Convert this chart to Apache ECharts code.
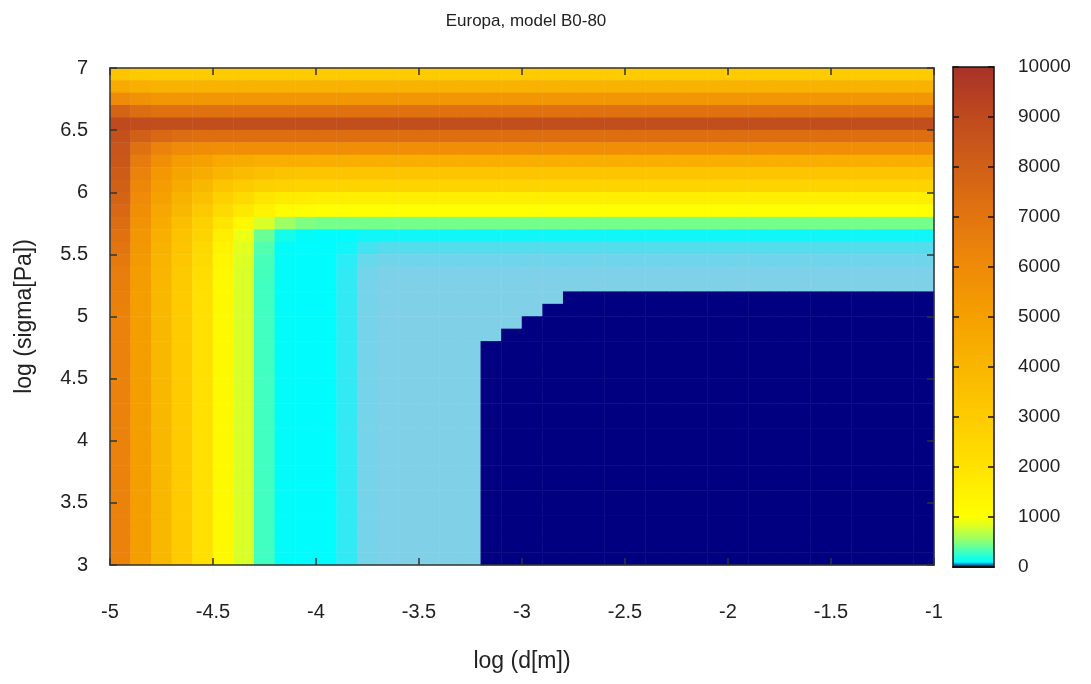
<!DOCTYPE html>
<html>
<head>
<meta charset="utf-8">
<script src="https://cdn.jsdelivr.net/npm/echarts@6.0.0/dist/echarts.min.js"></script>
<style>
html,body{margin:0;padding:0;background:#fff;}
#chart{width:1091px;height:684px;}
</style>
</head>
<body>
<div id="chart"></div>
<script>
// Cell centres of the heatmap grid (log d [m], log sigma [Pa])
const xCenters = [-4.95,-4.85,-4.75,-4.65,-4.55,-4.45,-4.35,-4.25,-4.15,-4.05,
                  -3.95,-3.85,-3.75,-3.65,-3.55,-3.45,-3.35,-3.25,-3.15,-3.05,
                  -2.95,-2.85,-2.75,-2.65,-2.55,-2.45,-2.35,-2.25,-2.15,-2.05,
                  -1.95,-1.85,-1.75,-1.65,-1.55,-1.45,-1.35,-1.25,-1.15,-1.05];
const yCenters = [3.05,3.15,3.25,3.35,3.45,3.55,3.65,3.75,3.85,3.95,
                  4.05,4.15,4.25,4.35,4.45,4.55,4.65,4.75,4.85,4.95,
                  5.05,5.15,5.25,5.35,5.45,5.55,5.65,5.75,5.85,5.95,
                  6.05,6.15,6.25,6.35,6.45,6.55,6.65,6.75,6.85,6.95];
const xTicks = {min: -5, max: -1, step: 0.5};
const yTicks = {min: 3, max: 7, step: 0.5};
const cbTicks = {min: 0, max: 10000, step: 1000};
const titleText = 'Europa, model B0-80';
const xName = 'log (d[m])';
const yName = 'log (sigma[Pa])';

// Values; first row = top (y 6.95), last row = bottom (y 3.05)
const zRows = [
[3300,3100,3000,3000,3000,3000,3000,3000,3000,3000, 3000,3000,3000,3000,3000,3000,3000,3000,3000,3000, 3000,3000,3000,3000,3000,3000,3000,3000,3000,3000, 3000,3000,3000,3000,3000,3000,3000,3000,3000,3000],
[4500,4300,4200,4200,4200,4200,4200,4200,4200,4200, 4200,4200,4200,4200,4200,4200,4200,4200,4200,4200, 4200,4200,4200,4200,4200,4200,4200,4200,4200,4200, 4200,4200,4200,4200,4200,4200,4200,4200,4200,4200],
[6000,5700,5500,5500,5500,5500,5500,5500,5500,5500, 5500,5500,5500,5500,5500,5500,5500,5500,5500,5500, 5500,5500,5500,5500,5500,5500,5500,5500,5500,5500, 5500,5500,5500,5500,5500,5500,5500,5500,5500,5500],
[7800,7400,7200,7200,7200,7200,7200,7200,7200,7200, 7200,7200,7200,7200,7200,7200,7200,7200,7200,7200, 7200,7200,7200,7200,7200,7200,7200,7200,7200,7200, 7200,7200,7200,7200,7200,7200,7200,7200,7200,7200],
[9000,8900,8800,8800,8800,8800,8800,8800,8800,8800, 8800,8800,8800,8800,8800,8800,8800,8800,8800,8800, 8800,8800,8800,8800,8800,8800,8800,8800,8800,8800, 8800,8800,8800,8800,8800,8800,8800,8800,8800,8800],
[8700,8000,7600,7400,7300,7300,7300,7300,7300,7300, 7300,7300,7300,7300,7300,7300,7300,7300,7300,7300, 7300,7300,7300,7300,7300,7300,7300,7300,7300,7300, 7300,7300,7300,7300,7300,7300,7300,7300,7300,7300],
[8500,7200,6400,6000,5900,5800,5800,5800,5800,5800, 5800,5800,5800,5800,5800,5800,5800,5800,5800,5800, 5800,5800,5800,5800,5800,5800,5800,5800,5800,5800, 5800,5800,5800,5800,5800,5800,5800,5800,5800,5800],
[8400,6700,5800,5200,4900,4600,4400,4300,4300,4300, 4300,4300,4300,4300,4300,4300,4300,4300,4300,4300, 4300,4300,4300,4300,4300,4300,4300,4300,4300,4300, 4300,4300,4300,4300,4300,4300,4300,4300,4300,4300],
[8200,6400,5400,4800,4400,4000,3700,3500,3400,3300, 3300,3300,3300,3300,3300,3300,3300,3300,3300,3300, 3300,3300,3300,3300,3300,3300,3300,3300,3300,3300, 3300,3300,3300,3300,3300,3300,3300,3300,3300,3300],
[8000,6200,5200,4500,3900,3300,3000,2800,2700,2600, 2600,2600,2600,2600,2600,2600,2600,2600,2600,2600, 2600,2600,2600,2600,2600,2600,2600,2600,2600,2600, 2600,2600,2600,2600,2600,2600,2600,2600,2600,2600],
[7800,6000,4900,4200,3500,2800,2300,1900,1700,1650, 1600,1600,1600,1600,1600,1600,1600,1600,1600,1600, 1600,1600,1600,1600,1600,1600,1600,1600,1600,1600, 1600,1600,1600,1600,1600,1600,1600,1600,1600,1600],
[7600,5800,4700,3900,3100,2300,1800,1400,1150,1050, 1000,1000,1000,1000,1000,1000,1000,1000,1000,1000, 1000,1000,1000,1000,1000,1000,1000,1000,1000,1000, 1000,1000,1000,1000,1000,1000,1000,1000,1000,1000],
[7400,5600,4500,3600,2800,1900,1200,800,560,480, 450,450,450,450,450,450,450,450,450,450, 450,450,450,450,450,450,450,450,450,450, 450,450,450,450,450,450,450,450,450,450],
[7200,5500,4300,3400,2600,1600,900,420,160,110, 100,100,90,90,90,90,90,90,90,90, 90,90,90,90,90,90,90,90,90,90, 90,90,90,90,90,90,90,90,90,90],
[7000,5400,4200,3300,2400,1400,850,350,110,100, 100,90,60,50,50,50,50,50,50,50, 50,50,50,50,50,50,50,50,50,50, 50,50,50,50,50,50,50,50,50,50],
[6800,5300,4100,3200,2300,1300,820,320,110,100, 100,75,35,25,25,25,25,25,25,25, 25,25,25,25,25,25,25,25,25,25, 25,25,25,25,25,25,25,25,25,25],
[6650,5200,4000,3100,2200,1250,800,310,110,100, 100,72,22,13,12,12,12,12,12,12, 12,12,12,12,12,12,12,12,12,12, 12,12,12,12,12,12,12,12,12,12],
[6550,5150,3950,3050,2150,1220,800,300,110,100, 100,70,20,12,10,10,10,10,10,10, 10,10,10,10,10,10,10,10,10,10, 10,10,10,10,10,10,10,10,10,10],
[6500,5100,3900,3000,2100,1200,800,300,110,100, 100,70,20,12,10,10,10,10,10,10, 10,10,0,0,0,0,0,0,0,0, 0,0,0,0,0,0,0,0,0,0],
[6450,5100,3900,3000,2100,1200,800,300,110,100, 100,70,20,12,10,10,10,10,10,10, 10,0,0,0,0,0,0,0,0,0, 0,0,0,0,0,0,0,0,0,0],
[6400,5100,3900,3000,2100,1200,800,300,110,100, 100,70,20,12,10,10,10,10,10,10, 0,0,0,0,0,0,0,0,0,0, 0,0,0,0,0,0,0,0,0,0],
[6400,5100,3900,3000,2100,1200,800,300,110,100, 100,70,20,12,10,10,10,10,10,0, 0,0,0,0,0,0,0,0,0,0, 0,0,0,0,0,0,0,0,0,0],
[6400,5100,3900,3000,2100,1200,800,300,110,100, 100,70,20,12,10,10,10,10,0,0, 0,0,0,0,0,0,0,0,0,0, 0,0,0,0,0,0,0,0,0,0],
[6400,5100,3900,3000,2100,1200,800,300,110,100, 100,70,20,12,10,10,10,10,0,0, 0,0,0,0,0,0,0,0,0,0, 0,0,0,0,0,0,0,0,0,0],
[6400,5100,3900,3000,2100,1200,800,300,110,100, 100,70,20,12,10,10,10,10,0,0, 0,0,0,0,0,0,0,0,0,0, 0,0,0,0,0,0,0,0,0,0],
[6400,5100,3900,3000,2100,1200,800,300,110,100, 100,70,20,12,10,10,10,10,0,0, 0,0,0,0,0,0,0,0,0,0, 0,0,0,0,0,0,0,0,0,0],
[6400,5100,3900,3000,2100,1200,800,300,110,100, 100,70,20,12,10,10,10,10,0,0, 0,0,0,0,0,0,0,0,0,0, 0,0,0,0,0,0,0,0,0,0],
[6400,5100,3900,3000,2100,1200,800,300,110,100, 100,70,20,12,10,10,10,10,0,0, 0,0,0,0,0,0,0,0,0,0, 0,0,0,0,0,0,0,0,0,0],
[6400,5100,3900,3000,2100,1200,800,300,110,100, 100,70,20,12,10,10,10,10,0,0, 0,0,0,0,0,0,0,0,0,0, 0,0,0,0,0,0,0,0,0,0],
[6400,5100,3900,3000,2100,1200,800,300,110,100, 100,70,20,12,10,10,10,10,0,0, 0,0,0,0,0,0,0,0,0,0, 0,0,0,0,0,0,0,0,0,0],
[6400,5100,3900,3000,2100,1200,800,300,110,100, 100,70,20,12,10,10,10,10,0,0, 0,0,0,0,0,0,0,0,0,0, 0,0,0,0,0,0,0,0,0,0],
[6400,5100,3900,3000,2100,1200,800,300,110,100, 100,70,20,12,10,10,10,10,0,0, 0,0,0,0,0,0,0,0,0,0, 0,0,0,0,0,0,0,0,0,0],
[6400,5100,3900,3000,2100,1200,800,300,110,100, 100,70,20,12,10,10,10,10,0,0, 0,0,0,0,0,0,0,0,0,0, 0,0,0,0,0,0,0,0,0,0],
[6400,5100,3900,3000,2100,1200,800,300,110,100, 100,70,20,12,10,10,10,10,0,0, 0,0,0,0,0,0,0,0,0,0, 0,0,0,0,0,0,0,0,0,0],
[6400,5100,3900,3000,2100,1200,800,300,110,100, 100,70,20,12,10,10,10,10,0,0, 0,0,0,0,0,0,0,0,0,0, 0,0,0,0,0,0,0,0,0,0],
[6400,5100,3900,3000,2100,1200,800,300,110,100, 100,70,20,12,10,10,10,10,0,0, 0,0,0,0,0,0,0,0,0,0, 0,0,0,0,0,0,0,0,0,0],
[6400,5100,3900,3000,2100,1200,800,300,110,100, 100,70,20,12,10,10,10,10,0,0, 0,0,0,0,0,0,0,0,0,0, 0,0,0,0,0,0,0,0,0,0],
[6400,5100,3900,3000,2100,1200,800,300,110,100, 100,70,20,12,10,10,10,10,0,0, 0,0,0,0,0,0,0,0,0,0, 0,0,0,0,0,0,0,0,0,0],
[6400,5100,3900,3000,2100,1200,800,300,110,100, 100,70,20,12,10,10,10,10,0,0, 0,0,0,0,0,0,0,0,0,0, 0,0,0,0,0,0,0,0,0,0],
[6400,5100,3900,3000,2100,1200,800,300,110,100, 100,70,20,12,10,10,10,10,0,0, 0,0,0,0,0,0,0,0,0,0, 0,0,0,0,0,0,0,0,0,0]
];

// Colour palette (value -> colour), styling only
const paletteStops = [
  [0,'#000080'],[10,'#80d0e8'],[50,'#55ddee'],[100,'#00fcfc'],[300,'#40ffc0'],
  [550,'#98ff68'],[800,'#d8ff28'],[1000,'#ffff00'],[2000,'#ffe200'],[3000,'#fdcb00'],
  [4000,'#f9b600'],[5000,'#f5a000'],[6000,'#ef8b08'],[7000,'#e2750f'],[8000,'#d16017'],
  [9000,'#bf4a1e'],[10000,'#a63228']
];
function hexRgb(h){return [parseInt(h.substr(1,2),16),parseInt(h.substr(3,2),16),parseInt(h.substr(5,2),16)];}
function samplePalette(stops, maxV, step){
  const out = [];
  for (let v = 0; v <= maxV; v += step) {
    let k = 0;
    while (k < stops.length - 2 && v > stops[k+1][0]) k++;
    const a = stops[k], b = stops[k+1];
    const t = Math.max(0, Math.min(1, (v - a[0]) / (b[0] - a[0])));
    const ca = hexRgb(a[1]), cb = hexRgb(b[1]);
    const c = ca.map((x, i) => Math.round(x + (cb[i] - x) * t));
    out.push('rgb(' + c.join(',') + ')');
  }
  return out;
}
const paletteColors = samplePalette(paletteStops, cbTicks.max, 10);

const heatData = [];
zRows.forEach((row, r) => {
  row.forEach((v, c) => heatData.push([c, zRows.length - 1 - r, v]));
});

const FONT = "'Liberation Sans', Arial, sans-serif";
const TXT = '#222';
const LINE = '#333';

const G = {left: 110, top: 68, width: 824, height: 497};
const CB = {left: 953, top: 67, width: 41, height: 500};

const chart = echarts.init(document.getElementById('chart'), null, {renderer: 'canvas'});
chart.setOption({
  animation: false,
  backgroundColor: '#fff',
  textStyle: {fontFamily: FONT},
  title: {
    text: titleText, left: 521, top: 8, textAlign: 'center',
    textStyle: {fontFamily: FONT, fontSize: 17, fontWeight: 'normal', color: TXT}
  },
  grid: [
    {left: G.left, top: G.top, width: G.width, height: G.height, containLabel: false},
    {left: CB.left, top: CB.top, width: CB.width, height: CB.height, containLabel: false}
  ],
  xAxis: [
    {type: 'category', gridIndex: 0, data: xCenters, show: false, position: 'bottom'},
    {type: 'value', gridIndex: 0, position: 'bottom', min: xTicks.min, max: xTicks.max, interval: xTicks.step, z: 10,
     name: xName, nameLocation: 'middle', nameGap: 85,
     nameTextStyle: {fontFamily: FONT, fontSize: 23, color: TXT},
     axisLine: {show: true, onZero: false, lineStyle: {color: LINE, width: 1.5}},
     axisTick: {show: true, inside: true, length: 7, lineStyle: {color: LINE, width: 1.5}},
     axisLabel: {margin: 37, fontSize: 20, color: TXT, fontFamily: FONT},
     splitLine: {show: false}},
    {type: 'value', gridIndex: 0, position: 'top', min: xTicks.min, max: xTicks.max, interval: xTicks.step, z: 10,
     axisLine: {show: true, onZero: false, lineStyle: {color: LINE, width: 1.5}},
     axisTick: {show: true, inside: true, length: 7, lineStyle: {color: LINE, width: 1.5}},
     axisLabel: {show: false}, splitLine: {show: false}},
    {type: 'value', gridIndex: 1, position: 'bottom', min: 0, max: 1, z: 10,
     axisLine: {show: true, onZero: false, lineStyle: {color: '#111', width: 2}},
     axisTick: {show: false}, axisLabel: {show: false}, splitLine: {show: false}},
    {type: 'value', gridIndex: 1, position: 'top', min: 0, max: 1, z: 10,
     axisLine: {show: true, onZero: false, lineStyle: {color: '#111', width: 1.5}},
     axisTick: {show: false}, axisLabel: {show: false}, splitLine: {show: false}}
  ],
  yAxis: [
    {type: 'category', gridIndex: 0, data: yCenters, show: false, position: 'left'},
    {type: 'value', gridIndex: 0, position: 'left', min: yTicks.min, max: yTicks.max, interval: yTicks.step, z: 10,
     name: yName, nameLocation: 'middle', nameGap: 74, nameRotate: 90,
     nameTextStyle: {fontFamily: FONT, fontSize: 23, color: TXT},
     axisLine: {show: true, onZero: false, lineStyle: {color: LINE, width: 1.5}},
     axisTick: {show: true, inside: true, length: 7, lineStyle: {color: LINE, width: 1.5}},
     axisLabel: {margin: 22, fontSize: 20, color: TXT, fontFamily: FONT},
     splitLine: {show: false}},
    {type: 'value', gridIndex: 0, position: 'right', min: yTicks.min, max: yTicks.max, interval: yTicks.step, z: 10,
     axisLine: {show: true, onZero: false, lineStyle: {color: LINE, width: 1.5}},
     axisTick: {show: true, inside: true, length: 7, lineStyle: {color: LINE, width: 1.5}},
     axisLabel: {show: false}, splitLine: {show: false}},
    {type: 'value', gridIndex: 1, position: 'right', min: cbTicks.min, max: cbTicks.max, interval: cbTicks.step, z: 10,
     axisLine: {show: true, onZero: false, lineStyle: {color: '#111', width: 1.5}},
     axisTick: {show: true, inside: true, length: 6, lineStyle: {color: '#111', width: 1.5}},
     axisLabel: {margin: 24, fontSize: 19, color: TXT, fontFamily: FONT, formatter: v => String(v)},
     splitLine: {show: false}},
    {type: 'value', gridIndex: 1, position: 'left', min: cbTicks.min, max: cbTicks.max, interval: cbTicks.step, z: 10,
     axisLine: {show: true, onZero: false, lineStyle: {color: '#111', width: 1.5}},
     axisTick: {show: true, inside: true, length: 6, lineStyle: {color: '#111', width: 1.5}},
     axisLabel: {show: false}, splitLine: {show: false}}
  ],
  visualMap: {
    type: 'continuous', seriesIndex: 0, min: cbTicks.min, max: cbTicks.max,
    calculable: false, hoverLink: false, orient: 'vertical',
    left: CB.left, top: CB.top, itemWidth: CB.width, itemHeight: CB.height,
    padding: 0, text: null, showLabel: false,
    inRange: {color: paletteColors}
  },
  series: [{
    type: 'heatmap', xAxisIndex: 0, yAxisIndex: 0, data: heatData,
    progressive: 0, emphasis: {disabled: true}, silent: true
  }]
});
</script>
</body>
</html>
